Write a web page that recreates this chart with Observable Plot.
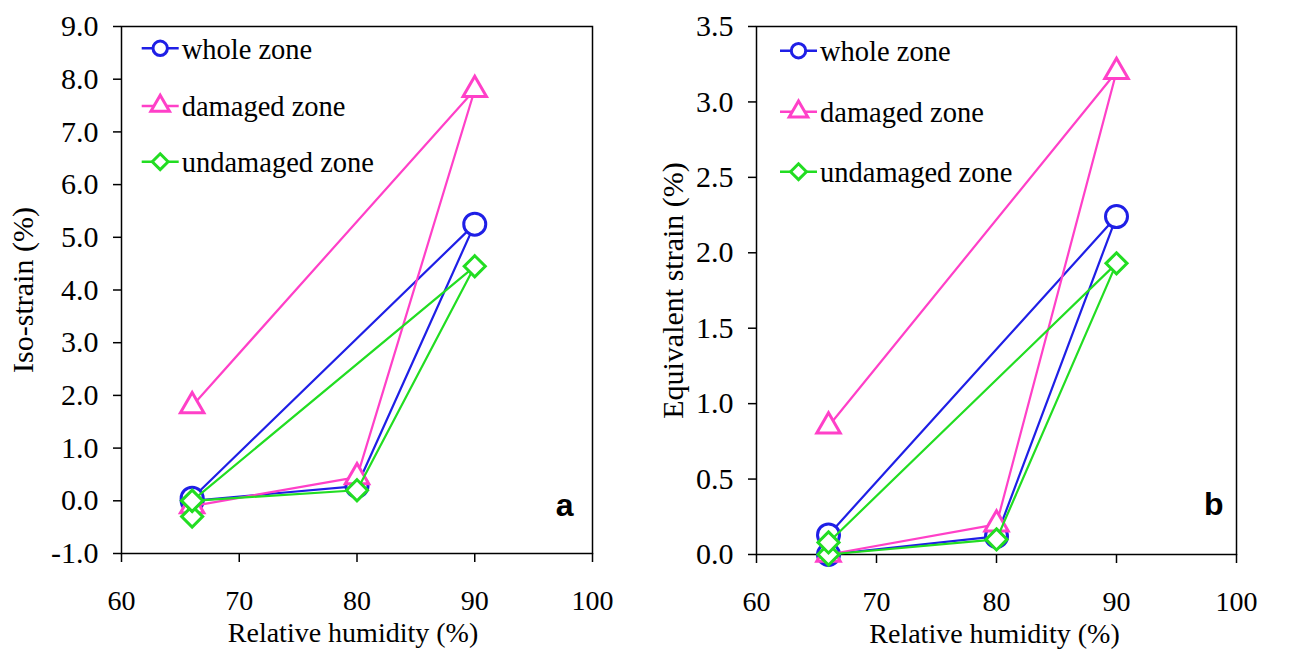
<!DOCTYPE html>
<html><head><meta charset="utf-8">
<script src="https://cdn.jsdelivr.net/npm/d3@7"></script>
<script src="https://cdn.jsdelivr.net/npm/@observablehq/plot@0.6"></script>
<style>
html,body{margin:0;padding:0;background:#fff;}
#wrap{position:relative;width:1296px;height:652px;overflow:hidden;background:#fff;}
#wrap > svg{position:absolute;top:0;overflow:visible;}
</style></head><body><div id="wrap"></div>
<script>
// ---- series definitions ----
const seriesNames = ["whole zone", "damaged zone", "undamaged zone"];
const seriesColors = ["#1f1fe6", "#ff40c8", "#22dd22"];
const seriesSymbols = ["circle", "triangle", "diamond2"];
const rhTicks = [60, 70, 80, 90, 100];

// ---- panel a: iso-strain (%) ----
const rhWholeA = [66, 80, 90, 66];
const isoWhole = [0.0, 0.28, 5.25, 0.05];
const rhDamagedA = [66, 80, 90, 66];
const isoDamaged = [-0.1, 0.45, 7.8, 1.8];
const rhUndamagedA = [66, 66, 80, 90, 66];
const isoUndamaged = [-0.3, 0.0, 0.2, 4.45, 0.0];
const isoTicks = [-1, 0, 1, 2, 3, 4, 5, 6, 7, 8, 9];

// ---- panel b: equivalent strain (%) ----
const rhWholeB = [66, 80, 90, 66];
const eqWhole = [0.0, 0.12, 2.24, 0.13];
const rhDamagedB = [66, 80, 90, 66];
const eqDamaged = [0.0, 0.2, 3.2, 0.85];
const rhUndamagedB = [66, 80, 90, 66];
const eqUndamaged = [0.0, 0.1, 1.93, 0.08];
const eqTicks = [0, 0.5, 1, 1.5, 2, 2.5, 3, 3.5];

const markerR = [11, 8.7, 9.5];
const legendD3Symbols = [d3.symbolCircle, d3.symbolTriangle, d3.symbolDiamond2 || d3.symbolSquare];
const legendSizes = [Math.PI * 7.2 * 7.2, 150, 160];

function rows(xs, ys) { return xs.map((x, i) => ({rh: x, v: ys[i]})); }

function makePanel(cfg) {
  const marks = [
    Plot.frame({stroke: "black", strokeWidth: 1.5}),
    Plot.axisX({ticks: rhTicks, tickSize: 9, tickPadding: 28, tickFormat: d => String(d), strokeWidth: 1.5, label: null, fill: "black"}),
    Plot.axisY({ticks: cfg.yTicks, tickSize: 8, tickPadding: 15, tickFormat: d => d.toFixed(1), strokeWidth: 1.5, label: null, fill: "black", fontSize: 30})
  ];
  cfg.series.forEach((s, i) => {
    const data = rows(s[0], s[1]);
    marks.push(Plot.line(data, {x: "rh", y: "v", stroke: seriesColors[i], strokeWidth: 2.2}));
    marks.push(Plot.dot(data, {x: "rh", y: "v", symbol: seriesSymbols[i], r: markerR[i], stroke: seriesColors[i], fill: "white", strokeWidth: 3}));
  });
  marks.push(Plot.text([cfg.yLabel], {frameAnchor: "left", textAnchor: "middle", lineAnchor: "middle", rotate: -90, dx: cfg.yLabelDx, dy: 0, fontSize: 30, fill: "black"}));
  marks.push(Plot.text(["Relative humidity (%)"], {frameAnchor: "bottom", textAnchor: "middle", lineAnchor: "middle", dy: 80, dx: cfg.xLabelDx, fill: "black"}));
  marks.push(Plot.text([cfg.letter], {frameAnchor: "bottom-right", textAnchor: "end", lineAnchor: "middle", dx: cfg.letterDx, dy: cfg.letterDy, fontFamily: "Liberation Sans, Arial, sans-serif", fontWeight: "bold", fontSize: 32, fill: "black"}));
  const svg = Plot.plot({
    width: 648, height: 652,
    marginLeft: cfg.ml, marginRight: cfg.mr, marginTop: 26, marginBottom: cfg.mb,
    x: {domain: [60, 100]},
    y: {domain: cfg.yDomain},
    style: {fontFamily: "Liberation Serif, 'Times New Roman', serif", fontSize: "28px", color: "black", background: "white", overflow: "visible"},
    marks
  });
  // legend
  const g = d3.select(svg).append("g");
  seriesNames.forEach((name, i) => {
    const y = cfg.legendY[i], x0 = cfg.legendX;
    g.append("line").attr("x1", x0).attr("x2", x0 + 37).attr("y1", y).attr("y2", y)
      .attr("stroke", seriesColors[i]).attr("stroke-width", 2.5);
    g.append("path").attr("d", d3.symbol(legendD3Symbols[i], legendSizes[i])())
      .attr("transform", `translate(${x0 + 18.5},${y})`)
      .attr("fill", "white").attr("stroke", seriesColors[i]).attr("stroke-width", 3);
    g.append("text").attr("x", x0 + 40).attr("y", y).attr("dy", "0.36em")
      .attr("text-anchor", "start")
      .attr("fill", "black").attr("font-size", 28.5).text(name);
  });
  return svg;
}

const wrap = document.getElementById("wrap");
const a = makePanel({
  series: [[rhWholeA, isoWhole], [rhDamagedA, isoDamaged], [rhUndamagedA, isoUndamaged]],
  yDomain: [-1, 9], yTicks: isoTicks, yLabel: "Iso-strain (%)",
  ml: 121, mr: 56, mb: 99,
  yLabelDx: -98, xLabelDx: -4,
  letter: "a", letterDx: -19, letterDy: -48,
  legendX: 141.7, legendY: [48.3, 106, 161.7]
});
a.style.left = "0px";
wrap.appendChild(a);
const b = makePanel({
  series: [[rhWholeB, eqWhole], [rhDamagedB, eqDamaged], [rhUndamagedB, eqUndamaged]],
  yDomain: [0, 3.5], yTicks: eqTicks, yLabel: "Equivalent strain (%)",
  ml: 108, mr: 60, mb: 98,
  yLabelDx: -83, xLabelDx: -2,
  letter: "b", letterDx: -13, letterDy: -50,
  legendX: 132, legendY: [50.7, 111.7, 171.7]
});
b.style.left = "648px";
wrap.appendChild(b);
</script></body></html>
